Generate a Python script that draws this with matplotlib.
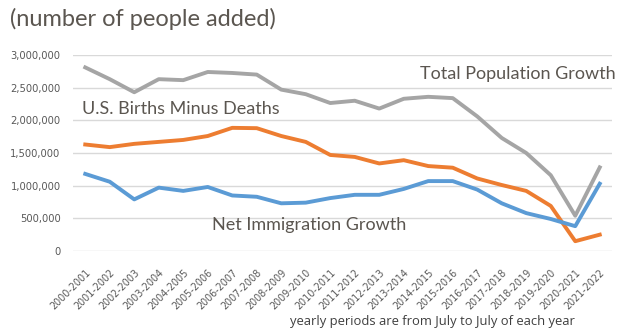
import matplotlib
matplotlib.use("Agg")
import matplotlib.pyplot as plt
from matplotlib.ticker import FuncFormatter

periods = [f"{y}-{y+1}" for y in range(2000, 2022)]
total_growth = [2810000, 2630000, 2430000, 2630000, 2615000, 2740000, 2725000, 2700000,
                2470000, 2400000, 2265000, 2300000, 2180000, 2330000, 2360000, 2340000,
                2060000, 1730000, 1500000, 1160000, 540000, 1280000]
births_minus_deaths = [1630000, 1590000, 1640000, 1670000, 1700000, 1760000, 1885000, 1880000,
                       1760000, 1670000, 1470000, 1440000, 1340000, 1390000, 1300000, 1275000,
                       1110000, 1010000, 920000, 690000, 150000, 250000]
net_immigration = [1180000, 1060000, 790000, 970000, 920000, 980000, 850000, 830000,
                   730000, 740000, 810000, 860000, 860000, 950000, 1070000, 1070000,
                   940000, 730000, 580000, 490000, 380000, 1030000]
yticks = [0, 500000, 1000000, 1500000, 2000000, 2500000, 3000000]

GRAY = "#A5A5A5"
ORANGE = "#ED7D31"
BLUE = "#5B9BD5"
TEXT = "#5B5650"
TICK = "#595959"

fig = plt.figure(figsize=(6.31, 3.31), dpi=100)
ax = fig.add_axes([73 / 631, 80 / 331, (612 - 73) / 631, (251 - 55) / 331])

x = list(range(len(periods)))
ax.plot(x, total_growth, color=GRAY, lw=2.8, solid_joinstyle="round", zorder=3)
ax.plot(x, births_minus_deaths, color=ORANGE, lw=2.8, solid_joinstyle="round", zorder=3)
ax.plot(x, net_immigration, color=BLUE, lw=2.8, solid_joinstyle="round", zorder=3)

ax.set_ylim(0, 3000000)
ax.set_xlim(-0.5, 21.5)
ax.set_yticks(yticks)
ax.yaxis.set_major_formatter(FuncFormatter(lambda v, p: f"{int(v):,}"))
ax.grid(axis="y", color="#D9D9D9", lw=1)
ax.set_axisbelow(True)
for s in ax.spines.values():
    s.set_visible(False)
ax.tick_params(axis="both", length=0, colors=TICK, labelsize=7.2)
ax.tick_params(axis="y", pad=9)
ax.set_xticks(x)
ax.set_xticklabels(periods, rotation=45, ha="right", rotation_mode="anchor",
                   fontsize=6.9, color=TICK)
ax.tick_params(axis="x", pad=12)
for lbl in ax.get_xticklabels():
    lbl.set_x(lbl.get_position()[0])

fig.text(10 / 631, 1 - 19 / 331, "(number of people added)", fontsize=17,
         color=TEXT, family="Lato", va="center", ha="left")
fig.text(420 / 631, 1 - 74 / 331, "Total Population Growth", fontsize=13,
         color=TEXT, family="Lato", va="center", ha="left")
fig.text(82 / 631, 1 - 109 / 331, "U.S. Births Minus Deaths", fontsize=13,
         color=TEXT, family="Lato", va="center", ha="left")
fig.text(212 / 631, 1 - 225 / 331, "Net Immigration Growth", fontsize=13,
         color=TEXT, family="Lato", va="center", ha="left")
fig.text(290 / 631, 1 - 322 / 331, "yearly periods are from July to July of each year",
         fontsize=9.4, color="#3F3F3F", family="Open Sans", va="center", ha="left")

fig.savefig("out.png", dpi=100, facecolor="white")
